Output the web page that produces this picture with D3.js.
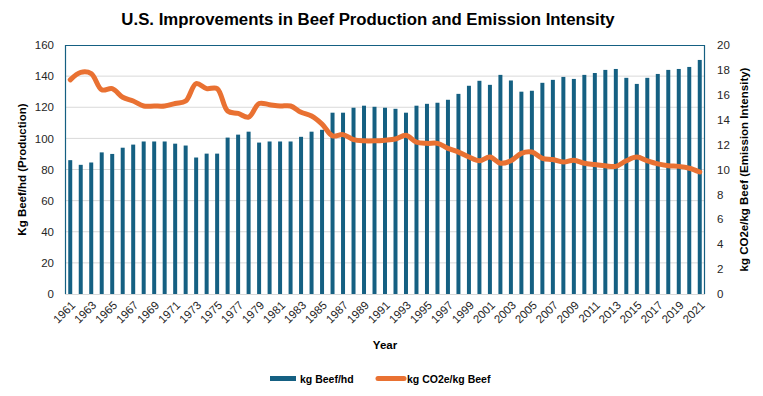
<!DOCTYPE html>
<html><head><meta charset="utf-8">
<script src="https://cdn.jsdelivr.net/npm/d3@7"></script>
<style>
body{margin:0;background:#fff;}
text{font-family:"Liberation Sans",Arial,sans-serif;}
</style></head>
<body><svg id="c" width="763" height="396"></svg>
<script>
const years = d3.range(1961, 2022).map(String);
const beefPerHead = [86,83,84.5,91,90,94,96,98,98,98,96.6,95.4,87.7,90.2,90.2,100.5,102.4,104.3,97.3,98,98,98,
  101,104.3,105.5,116.5,116.5,119.7,121,120.3,119.7,119,116.5,121,122.2,122.9,124.8,128.6,133.8,137,134.4,140.8,
  137.2,130,130.6,135.7,137.6,139.5,138.2,140.8,142,144,144.6,138.9,135,138.9,141.4,144,144.6,145.9,150.4];
const emissionIntensity = [17.2,17.8,17.7,16.4,16.5,15.8,15.5,15.1,15.1,15.1,15.3,15.5,16.9,16.5,16.5,14.7,14.5,14.2,15.3,15.2,15.1,15.1,
  14.6,14.3,13.65,12.7,12.8,12.4,12.3,12.3,12.35,12.45,12.75,12.2,12.1,12.1,11.7,11.4,11.0,10.7,11.0,10.5,
  10.7,11.3,11.4,10.9,10.8,10.6,10.75,10.5,10.4,10.3,10.25,10.7,11.0,10.7,10.45,10.3,10.25,10.1,9.8];
const leftTicks = [0,20,40,60,80,100,120,140,160];
const rightTicks = [0,2,4,6,8,10,12,14,16,18,20];
const labelYears = years.filter((d,i)=>i%2===0);

const svg = d3.select("#c");
const m = {l:65, r:705, t:45, b:294};
const x = d3.scaleBand().domain(years).range([m.l, m.r]).paddingInner(0.62).paddingOuter(0.31);
const yL = d3.scaleLinear().domain([0,160]).range([m.b, m.t]);
const yR = d3.scaleLinear().domain([0,20]).range([m.b, m.t]);
const blue = "#156082", orange = "#E97132";

// gridlines
svg.append("g").selectAll("line").data(leftTicks.slice(1,-1)).join("line")
  .attr("x1", m.l).attr("x2", m.r).attr("y1", d=>yL(d)).attr("y2", d=>yL(d))
  .attr("stroke", "#d9d9d9").attr("stroke-width", 1);

// bars
svg.append("g").selectAll("rect").data(beefPerHead).join("rect")
  .attr("x", (d,i)=>x(years[i])).attr("width", x.bandwidth())
  .attr("y", d=>yL(d)).attr("height", d=>yL(0)-yL(d)).attr("fill", blue);

// bottom axis line
svg.append("line").attr("x1", m.l).attr("x2", m.r).attr("y1", m.b+0.5).attr("y2", m.b+0.5)
  .attr("stroke", "#d9d9d9").attr("stroke-width", 1);

// plot border (left, top, right)
svg.append("path").attr("d", `M${m.l+0.5},${m.b}V${m.t+0.5}H${m.r-0.5}V${m.b}`)
  .attr("fill","none").attr("stroke", blue).attr("stroke-width", 1.2);

// line
const line = d3.line().x((d,i)=>x(years[i])+x.bandwidth()/2).y(d=>yR(d)).curve(d3.curveCatmullRom.alpha(0.5));
svg.append("path").datum(emissionIntensity).attr("d", line)
  .attr("fill","none").attr("stroke", orange).attr("stroke-width", 5).attr("stroke-linejoin","round").attr("stroke-linecap","round");

// left axis labels
const axL = d3.axisLeft(yL).tickValues(leftTicks).tickSize(0).tickPadding(11);
const gL = svg.append("g").attr("transform", `translate(${m.l},0)`).call(axL);
gL.select(".domain").remove();
gL.selectAll("text").attr("font-size", 11.5).attr("fill", "#262626").style("font-family","Liberation Sans, Arial, sans-serif");

const axR = d3.axisRight(yR).tickValues(rightTicks).tickSize(0).tickPadding(12);
const gR = svg.append("g").attr("transform", `translate(${m.r},0)`).call(axR);
gR.select(".domain").remove();
gR.selectAll("text").attr("font-size", 11.5).attr("fill", "#262626").style("font-family","Liberation Sans, Arial, sans-serif");

// x labels
svg.append("g").selectAll("text").data(labelYears).join("text")
  .attr("transform", d=>`translate(${x(d)+x.bandwidth()/2+3},${m.b+9}) rotate(-45)`)
  .attr("text-anchor","end").attr("dy","0.35em")
  .attr("font-size", 11.5).attr("fill","#262626").text(d=>d);

// title
svg.append("text").attr("x", 368).attr("y", 25).attr("text-anchor","middle")
  .attr("font-size", 16.8).attr("font-weight","bold").attr("fill","#000")
  .text("U.S. Improvements in Beef Production and Emission Intensity");

// axis titles
svg.append("text").attr("transform", `translate(26,${(m.t+m.b)/2}) rotate(-90)`).attr("text-anchor","middle")
  .attr("font-size", 11.5).attr("font-weight","bold").attr("fill","#000").text("Kg Beef/hd (Production)");
svg.append("text").attr("transform", `translate(748,${(m.t+m.b)/2}) rotate(-90)`).attr("text-anchor","middle")
  .attr("font-size", 11.5).attr("font-weight","bold").attr("fill","#000").text("kg CO2e/kg Beef (Emission Intensity)");
svg.append("text").attr("x", 385).attr("y", 349).attr("text-anchor","middle")
  .attr("font-size", 11.5).attr("font-weight","bold").attr("fill","#000").text("Year");

// legend
const lg = svg.append("g");
lg.append("rect").attr("x",270).attr("y",376).attr("width",26).attr("height",5).attr("fill",blue);
lg.append("text").attr("x",300).attr("y",382.5).attr("font-size",10.5).attr("font-weight","bold").text("kg Beef/hd");
lg.append("line").attr("x1",378).attr("x2",404).attr("y1",378.5).attr("y2",378.5).attr("stroke",orange).attr("stroke-width",5).attr("stroke-linecap","round");
lg.append("text").attr("x",407).attr("y",382.5).attr("font-size",10.5).attr("font-weight","bold").text("kg CO2e/kg Beef");
</script></body></html>
